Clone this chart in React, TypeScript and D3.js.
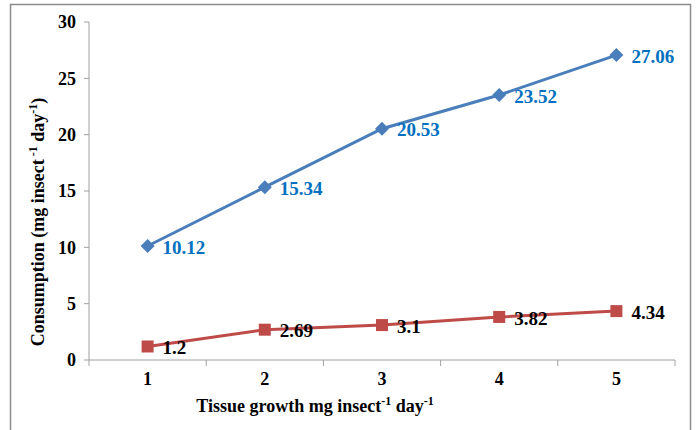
import React from "react";
import * as d3 from "d3";

const categories = ["1", "2", "3", "4", "5"];
const consumption = [10.12, 15.34, 20.53, 23.52, 27.06];
const growth = [1.2, 2.69, 3.1, 3.82, 4.34];
const yTicks = [0, 5, 10, 15, 20, 25, 30];

const W = 700;
const H = 430;
const margin = { left: 89, right: 25, top: 22, bottom: 70 };
const FONT = "'Liberation Serif', 'Times New Roman', serif";

export default function App() {
  const x = d3
    .scaleBand<string>()
    .domain(categories)
    .range([margin.left, W - margin.right]);
  const y = d3
    .scaleLinear()
    .domain([0, 30])
    .range([H - margin.bottom, margin.top]);

  const cx = (c: string) => (x(c) ?? 0) + x.bandwidth() / 2;
  const line = d3
    .line<number>()
    .x((_, i) => cx(categories[i]))
    .y((d) => y(d));

  const x0 = x.range()[0];
  const x1 = x.range()[1];
  const y0 = y(0);
  const tickEdges = categories.map((c) => x(c) ?? 0).concat([x1]);

  const blueLine = "#4A7EBB";
  const blueText = "#0070C0";
  const redLine = "#BE4B48";

  return (
    <svg
      width={W}
      height={H}
      style={{ position: "absolute", left: 0, top: 0, display: "block" }}
      fontFamily={FONT}
    >
      <rect x={0} y={0} width={W} height={H} fill="#fff" />
      {/* chart frame */}
      <rect x={10.5} y={4.5} width={680} height={440} fill="none" stroke="#8c8c8c" strokeWidth={1.5} />

      {/* y axis */}
      <line x1={x0} x2={x0} y1={y(30)} y2={y0} stroke="#a0a0a0" strokeWidth={1} />
      {yTicks.map((t) => (
        <g key={t}>
          <line x1={x0 - 5} x2={x0} y1={y(t)} y2={y(t)} stroke="#a0a0a0" />
          <text
            x={x0 - 13}
            y={y(t)}
            dy="0.35em"
            textAnchor="end"
            fontSize={18}
            fontWeight="bold"
            fill="#000"
          >
            {t}
          </text>
        </g>
      ))}

      {/* x axis */}
      <line x1={x0} x2={x1} y1={y0} y2={y0} stroke="#a0a0a0" />
      {tickEdges.map((e, i) => (
        <line key={i} x1={e} x2={e} y1={y0} y2={y0 + 6} stroke="#a0a0a0" />
      ))}
      {categories.map((c) => (
        <text
          key={c}
          x={cx(c)}
          y={y0 + 25}
          textAnchor="middle"
          fontSize={18}
          fontWeight="bold"
        >
          {c}
        </text>
      ))}

      {/* axis titles */}
      <text x={315} y={412} textAnchor="middle" fontSize={18} fontWeight="bold">
        Tissue growth mg insect
        <tspan dy={-7} fontSize={12}>-1</tspan>
        <tspan dy={7}> day</tspan>
        <tspan dy={-7} fontSize={12}>-1</tspan>
      </text>
      <text
        transform={`translate(44, 222) rotate(-90)`}
        textAnchor="middle"
        fontSize={18}
        fontWeight="bold"
      >
        Consumption (mg insect
        <tspan dy={-7} fontSize={12}> -1</tspan>
        <tspan dy={7}> day</tspan>
        <tspan dy={-7} fontSize={12}>-1</tspan>
        <tspan dy={7}>)</tspan>
      </text>

      {/* consumption series */}
      <path d={line(consumption) ?? ""} fill="none" stroke={blueLine} strokeWidth={3} />
      {consumption.map((v, i) => {
        const px = cx(categories[i]);
        const py = y(v);
        return (
          <g key={i}>
            <path
              d={`M${px},${py - 7}L${px + 7},${py}L${px},${py + 7}L${px - 7},${py}Z`}
              fill={blueLine}
            />
            <text
              x={px + 15}
              y={py}
              dy="0.4em"
              fontSize={19}
              fontWeight="bold"
              fill={blueText}
            >
              {v.toFixed(2)}
            </text>
          </g>
        );
      })}

      {/* growth series */}
      <path d={line(growth) ?? ""} fill="none" stroke={redLine} strokeWidth={3} />
      {growth.map((v, i) => {
        const px = cx(categories[i]);
        const py = y(v);
        return (
          <g key={i}>
            <rect x={px - 6} y={py - 6} width={12} height={12} fill={redLine} />
            <text
              x={px + 15}
              y={py}
              dy="0.4em"
              fontSize={19}
              fontWeight="bold"
              fill="#000"
            >
              {String(v)}
            </text>
          </g>
        );
      })}
    </svg>
  );
}
